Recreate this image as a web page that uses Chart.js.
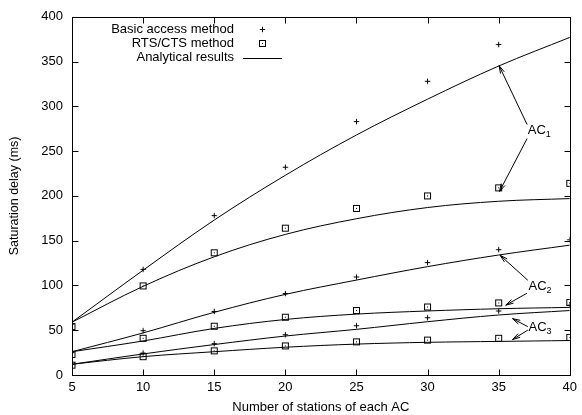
<!DOCTYPE html>
<html>
<head>
<meta charset="utf-8">
<script src="https://cdn.jsdelivr.net/npm/chart.js@4"></script>
<style>
  html, body { margin: 0; padding: 0; background: #fff; }
  #wrap { width: 582px; height: 415px; }
</style>
</head>
<body>
<div id="wrap"><canvas id="c"></canvas></div>
<script>
const stations = [5, 10, 15, 20, 25, 30, 35, 40];

// simulation, basic access (+)
const basicAC1 = [57, 118, 178, 232, 283, 328, 369, null];
const basicAC2 = [25, 49.5, 71, 91, 109.5, 125.5, 140, 151];
const basicAC3 = [12, 24.5, 35, 45, 55, 64, 71.5, 78];
// simulation, RTS/CTS (boxes)
const rtsAC1 = [54, 99.5, 136.5, 164, 186, 200, 209, 214];
const rtsAC2 = [23, 41, 54.5, 64.5, 72, 76, 80.5, 81];
const rtsAC3 = [11, 20.5, 27, 32.5, 37, 39, 41, 42];
// analytical curves
const anaBasicAC1 = [59, 117, 173, 223, 268, 308, 345, 377];
const anaRtsAC1 = [59, 99, 132, 157, 174.5, 187, 194, 197];
const anaBasicAC2 = [26, 47, 70, 90, 106, 121, 134, 145];
const anaRtsAC2 = [26, 38, 52, 62, 68, 71.5, 74, 75.5];
const anaBasicAC3 = [12, 23.5, 34, 43.5, 51, 59.5, 67, 72];
const anaRtsAC3 = [12, 20.5, 26, 31, 34.5, 36.5, 37.5, 38.5];

const legendLabels = ["Basic access method", "RTS/CTS method", "Analytical results"];

// annotation labels with arrows, in data units: [textX, textY, sub, arrows[[x0,y0,x1,y1]]]
const notes = [
  [37.05, 273, "1", [[37.0, 279.7, 35.03, 345.4], [37.0, 264, 35.06, 205]]],
  [37.1, 98.6, "2", [[37.05, 105.8, 35.1, 133.7], [37.0, 91.4, 35.5, 78]]],
  [37.1, 52.9, "3", [[37.05, 54, 35.97, 63], [37.05, 50.1, 35.97, 39.6]]],
];

const FONT = "Liberation Sans, Arial, Helvetica, sans-serif";

function plusImg() {
  const c = document.createElement("canvas");
  c.width = 9; c.height = 9;
  const g = c.getContext("2d");
  g.strokeStyle = "#000"; g.lineWidth = 1;
  g.beginPath();
  g.moveTo(1.8, 4.5); g.lineTo(7.2, 4.5);
  g.moveTo(4.5, 1.8); g.lineTo(4.5, 7.2);
  g.stroke();
  return c;
}
function boxImg() {
  const c = document.createElement("canvas");
  c.width = 9; c.height = 9;
  const g = c.getContext("2d");
  g.strokeStyle = "#000"; g.lineWidth = 1;
  g.strokeRect(1.5, 1.5, 6, 6);
  g.fillStyle = "#000";
  g.fillRect(4, 4, 1, 1);
  return c;
}
const PLUS = plusImg(), BOX = boxImg();

const pts = (arr) => stations.map((x, i) => ({ x, y: arr[i] }));
const marks = (arr, img) => ({
  data: pts(arr), showLine: false, pointStyle: img, pointRadius: 4,
  borderColor: "#000", backgroundColor: "#000",
});
const curve = (arr) => ({
  data: pts(arr), showLine: true, pointRadius: 0, borderColor: "#000",
  borderWidth: 1, tension: 0.35,
});

const frame = {
  id: "frame",
  afterDraw(chart) {
    const { ctx, chartArea: a, scales: { x, y } } = chart;
    ctx.save();
    ctx.strokeStyle = "#000";
    ctx.lineWidth = 1;
    const L = Math.round(a.left) + 0.5, R = Math.round(a.right) + 0.5;
    const T = Math.round(a.top) + 0.5, B = Math.round(a.bottom) + 0.5;
    ctx.strokeRect(L, T, R - L, B - T);
    ctx.beginPath();
    x.ticks.forEach((t) => {
      const px = Math.round(x.getPixelForValue(t.value)) + 0.5;
      ctx.moveTo(px, B); ctx.lineTo(px, B - 6);
      ctx.moveTo(px, T); ctx.lineTo(px, T + 6);
    });
    y.ticks.forEach((t) => {
      const py = Math.round(y.getPixelForValue(t.value)) + 0.5;
      ctx.moveTo(L, py); ctx.lineTo(L + 6, py);
      ctx.moveTo(R, py); ctx.lineTo(R - 6, py);
    });
    ctx.stroke();

    // legend, top left inside the frame
    ctx.fillStyle = "#000";
    ctx.font = "13px " + FONT;
    ctx.textAlign = "right";
    ctx.textBaseline = "middle";
    const ly = [29.5, 43.5, 57.5];
    legendLabels.forEach((s, i) => ctx.fillText(s, 234, ly[i]));
    ctx.drawImage(PLUS, 258, ly[0] - 4.5);
    ctx.drawImage(BOX, 258, ly[1] - 4.5);
    ctx.beginPath();
    ctx.moveTo(243, Math.round(ly[2]) + 0.5);
    ctx.lineTo(282, Math.round(ly[2]) + 0.5);
    ctx.stroke();

    // AC labels and arrows
    notes.forEach(([tx, ty, sub, arrows]) => {
      const px = x.getPixelForValue(tx), py = y.getPixelForValue(ty);
      ctx.textAlign = "left";
      ctx.font = "13px " + FONT;
      ctx.fillText("AC", px, py);
      const w = ctx.measureText("AC").width;
      ctx.font = "9px " + FONT;
      ctx.fillText(sub, px + w, py + 4);
      arrows.forEach(([x0, y0, x1, y1]) => {
        const ax = x.getPixelForValue(x0), ay = y.getPixelForValue(y0);
        const bx = x.getPixelForValue(x1), by = y.getPixelForValue(y1);
        const ang = Math.atan2(by - ay, bx - ax);
        const h = 8, s = 0.26;
        ctx.beginPath();
        ctx.moveTo(ax, ay); ctx.lineTo(bx, by);
        ctx.moveTo(bx - h * Math.cos(ang - s), by - h * Math.sin(ang - s));
        ctx.lineTo(bx, by);
        ctx.lineTo(bx - h * Math.cos(ang + s), by - h * Math.sin(ang + s));
        ctx.stroke();
      });
    });
    ctx.restore();
  },
};

new Chart(document.getElementById("c"), {
  type: "scatter",
  data: {
    datasets: [
      marks(basicAC1, PLUS), marks(basicAC2, PLUS), marks(basicAC3, PLUS),
      marks(rtsAC1, BOX), marks(rtsAC2, BOX), marks(rtsAC3, BOX),
      curve(anaBasicAC1), curve(anaRtsAC1), curve(anaBasicAC2),
      curve(anaRtsAC2), curve(anaBasicAC3), curve(anaRtsAC3),
    ],
  },
  options: {
    responsive: true,
    maintainAspectRatio: false,
    animation: false,
    events: [],
    layout: { padding: { top: 16, right: 9, left: 0, bottom: 0 } },
    plugins: { legend: { display: false }, tooltip: { enabled: false } },
    scales: {
      x: {
        type: "linear", min: 5, max: 40,
        grid: { display: false, drawTicks: false },
        border: { display: false },
        ticks: { stepSize: 5, padding: 5, color: "#000", font: { family: FONT, size: 13 } },
        title: {
          display: true, text: "Number of stations of each AC", color: "#000",
          font: { family: FONT, size: 13 }, padding: { top: 0, bottom: 0 },
        },
        afterFit: (s) => { s.height = 40; },
      },
      y: {
        type: "linear", min: 0, max: 400,
        grid: { display: false, drawTicks: false },
        border: { display: false },
        ticks: { stepSize: 50, padding: 9, color: "#000", font: { family: FONT, size: 13 } },
        title: {
          display: true, text: "Saturation delay (ms)", color: "#000",
          font: { family: FONT, size: 12.5 }, padding: { top: 7, bottom: 0 },
        },
        afterFit: (s) => { s.width = 72; },
      },
    },
  },
  plugins: [frame],
});
</script>
</body>
</html>
